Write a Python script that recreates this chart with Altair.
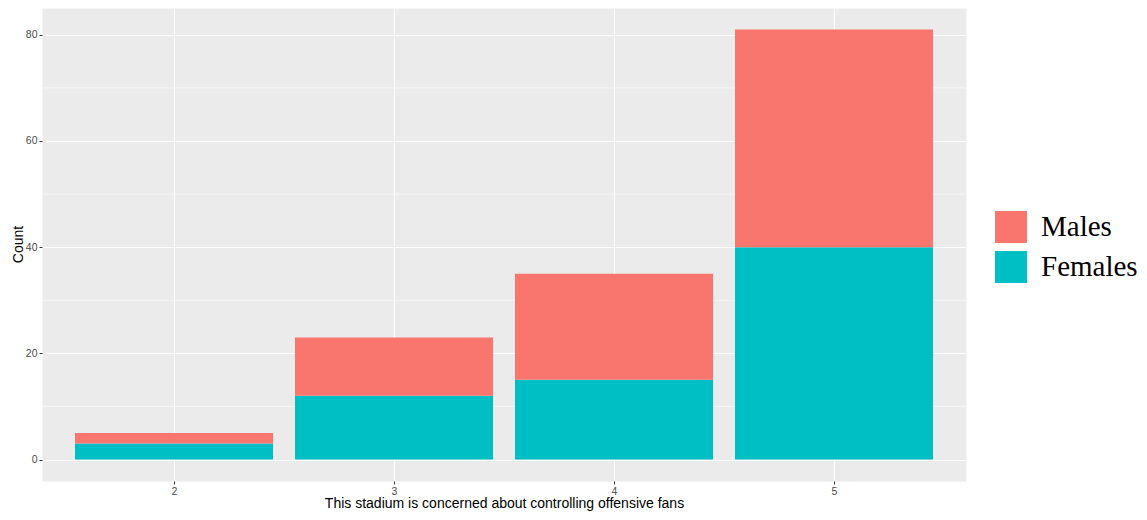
import altair as alt
import pandas as pd

categories = [2, 3, 4, 5]
males = [2, 11, 20, 41]
females = [3, 12, 15, 40]
groups = ["Males", "Females"]
group_colors = ["#F8766D", "#00BFC4"]
y_ticks = [0, 20, 40, 60, 80]
y_minor = [10, 30, 50, 70]

rows = []
for c, m, f in zip(categories, males, females):
    rows.append({"cat": c, "lo": c - 0.45, "hi": c + 0.45, "group": "Females", "ord": 0, "count": f})
    rows.append({"cat": c, "lo": c - 0.45, "hi": c + 0.45, "group": "Males", "ord": 1, "count": m})
df = pd.DataFrame(rows)
minor_df = pd.DataFrame({"count": y_minor})

yscale = alt.Scale(domain=[-4.05, 85.05], nice=False, zero=False, padding=0)
xscale = alt.Scale(domain=[1.4, 5.6], nice=False, zero=False, padding=0)

y_axis = alt.Axis(
    values=y_ticks, title="Count", tickSize=3, tickColor="#333333",
    labelColor="#4D4D4D", labelFontSize=10.5, labelPadding=2, domain=False,
    grid=True, gridColor="white", gridWidth=1.1,
    titleFontSize=14, titleFontWeight="normal", titleColor="black",
    titleX=-20, titleY=236, titleBaseline="alphabetic", titleAngle=270,
)
x_axis = alt.Axis(
    values=categories, title="This stadium is concerned about controlling offensive fans",
    tickSize=3, tickColor="#333333", labelColor="#4D4D4D", labelFontSize=10.5,
    labelPadding=2, domain=False, grid=True, gridColor="white", gridWidth=1.1,
    titleFontSize=14, titleFontWeight="normal", titleColor="black",
    titleY=26, titleBaseline="alphabetic", format="d",
)

minor = alt.Chart(minor_df).mark_rule(color="white", strokeWidth=0.55).encode(
    y=alt.Y("count:Q", scale=yscale, axis=y_axis)
)

bars = alt.Chart(df).mark_bar(strokeWidth=0).encode(
    x=alt.X("lo:Q", scale=xscale, axis=x_axis),
    x2="hi:Q",
    y=alt.Y("sum(count):Q", scale=yscale, axis=y_axis, stack="zero"),
    color=alt.Color(
        "group:N",
        scale=alt.Scale(domain=groups, range=group_colors),
        legend=alt.Legend(
            title=None, orient="none", legendX=953, legendY=203,
            symbolType="square", symbolSize=1024, symbolStrokeWidth=0,
            labelFont="Liberation Serif", labelFontSize=29, labelColor="black",
            labelOffset=14, rowPadding=8, padding=0, labelLimit=300,
        ),
    ),
    order=alt.Order("ord:Q", sort="ascending"),
)

chart = alt.layer(minor, bars).properties(
    width=924, height=473, autosize="none",
    padding={"left": 34, "top": 0, "right": 173, "bottom": 31},
).configure(
    font="Liberation Sans"
).configure_view(fill="#EBEBEB", stroke="transparent")

chart.save("out.html", embed_options={"renderer": "svg", "actions": False})
